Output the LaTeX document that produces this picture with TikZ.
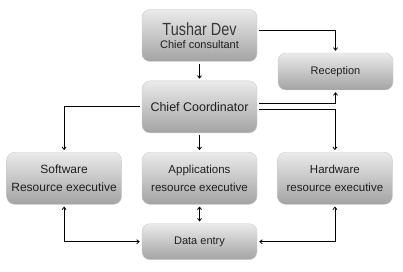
\documentclass[tikz,border=0pt]{standalone}
\usepackage{fontspec}
\setmainfont{Liberation Sans}
\newfontfamily\narrowfont{Liberation Sans}[FakeStretch=0.82]
\usetikzlibrary{arrows.meta, positioning}
\tikzset{
    box/.style={rectangle, rounded corners=8pt, minimum width=115pt, minimum height=52pt, align=center, draw=black!20, top color=black!8, bottom color=black!36, text=black!88, font=\fontsize{11.5}{18}\selectfont, inner sep=0pt},
    smallbox/.style={box, minimum height=37pt, font=\fontsize{11}{13}\selectfont},
    arrow/.style={line width=0.8pt, shorten >=2pt, shorten <=2pt, -{Straight Barb[length=2.5pt,width=4pt]}},
    twoway/.style={arrow, {Straight Barb[length=2.5pt,width=4pt]}-{Straight Barb[length=2.5pt,width=4pt]}}
}
\begin{document}
\begin{tikzpicture}[x=1pt, y=1pt, node distance=19pt and 20pt]
    \useasboundingbox (0,0) rectangle (403,-272);
    \node (tushar) [box, font=\fontsize{11}{13.4}\selectfont] at (199.5,-35.5) {{\narrowfont\fontsize{17.6}{18}\selectfont\color{black!78}Tushar Dev}\\Chief consultant};
    \node (chief) [box, font=\fontsize{12.5}{14}\selectfont, below=of tushar] {Chief Coordinator};
    \node (reception) [smallbox] at (335.5,-71.5) {Reception};
    \node (apps) [box, below=of chief] {Applications\\resource executive};
    \node (software) [box, font=\fontsize{12}{18}\selectfont, left=of apps] {Software\\Resource executive};
    \node (hardware) [box, right=of apps] {Hardware\\resource executive};
    \node (data) [smallbox, minimum height=36pt, below=of apps] {Data entry};

    \draw [arrow] ([yshift=5pt]tushar.east) -| (reception.north);
    \draw [arrow] (tushar) -- (chief);
    \draw [arrow] ([yshift=3pt]chief.east) -| (reception.south);
    \draw [arrow] ([yshift=-3pt]chief.east) -| (hardware.north);
    \draw [arrow] (chief.west) -| (software.north);
    \draw [arrow] (chief) -- (apps);
    \draw [twoway] (apps) -- (data);
    \draw [twoway] (software.south) |- (data.west);
    \draw [twoway] (hardware.south) |- (data.east);
\end{tikzpicture}
\end{document}
